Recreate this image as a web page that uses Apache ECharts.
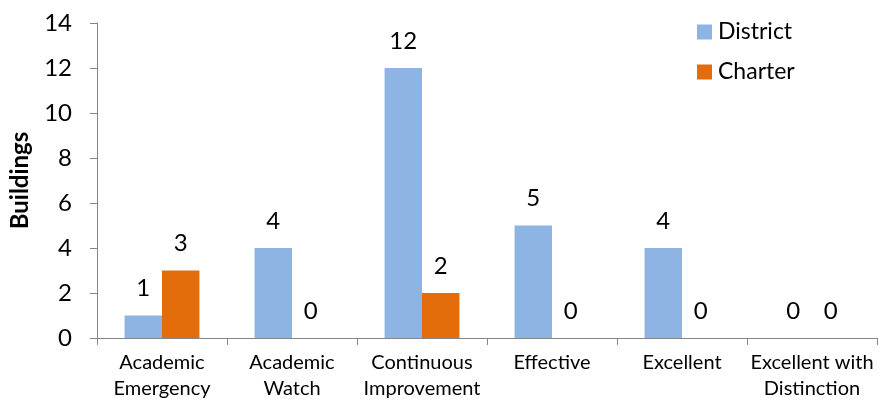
<!DOCTYPE html>
<html>
<head>
<meta charset="utf-8">
<script src="https://cdn.jsdelivr.net/npm/echarts@6/dist/echarts.min.js"></script>
<style>
  html, body { margin: 0; padding: 0; background: #fff; }
  #chart { width: 878px; height: 405px; }
</style>
</head>
<body>
<div id="chart"></div>
<script>
// Building ratings by category, district vs. charter
const categories = [
  'Academic\nEmergency',
  'Academic\nWatch',
  'Continuous\nImprovement',
  'Effective',
  'Excellent',
  'Excellent with\nDistinction'
];
const districtValues = [1, 4, 12, 5, 4, 0];
const charterValues = [3, 0, 2, 0, 0, 0];
const yTicks = { min: 0, max: 14, interval: 2 };

const FONT = 'Lato';
const axisGray = '#868686';

const chart = echarts.init(document.getElementById('chart'), null, { renderer: 'canvas' });

const labelStyle = {
  show: true,
  position: 'top',
  distance: 15,
  fontFamily: FONT,
  fontSize: 24,
  color: '#000'
};

chart.setOption({
  animation: false,
  backgroundColor: '#fff',
  grid: { left: 96, right: 1, top: 23, bottom: 67, containLabel: false },
  legend: {
    orient: 'vertical',
    left: 697,
    top: 20,
    padding: 0,
    itemWidth: 15,
    itemHeight: 15,
    itemGap: 16,
    icon: 'rect',
    textStyle: { fontFamily: FONT, fontSize: 23, color: '#000', lineHeight: 24, padding: [0, 0, 0, 1] },
    data: ['District', 'Charter']
  },
  xAxis: {
    type: 'category',
    data: categories,
    axisLine: { lineStyle: { color: axisGray, width: 1 } },
    axisTick: { show: true, alignWithLabel: false, length: 7, lineStyle: { color: axisGray } },
    axisLabel: {
      interval: 0,
      margin: 12,
      fontFamily: FONT,
      fontSize: 20,
      lineHeight: 26,
      color: '#000'
    }
  },
  yAxis: {
    type: 'value',
    min: yTicks.min,
    max: yTicks.max,
    interval: yTicks.interval,
    name: 'Buildings',
    nameLocation: 'middle',
    nameGap: 65,
    nameTextStyle: { fontFamily: FONT, fontSize: 24, fontWeight: 'bold', color: '#000' },
    axisLine: { show: true, lineStyle: { color: axisGray, width: 1 } },
    axisTick: { show: true, length: 7, lineStyle: { color: axisGray } },
    splitLine: { show: false },
    axisLabel: { margin: 25, fontFamily: FONT, fontSize: 24, color: '#000' }
  },
  series: [
    {
      name: 'District',
      type: 'bar',
      data: districtValues,
      barWidth: '28.8%',
      barGap: '0%',
      itemStyle: { color: '#8EB4E3' },
      label: labelStyle
    },
    {
      name: 'Charter',
      type: 'bar',
      data: charterValues,
      barWidth: '28.8%',
      barGap: '0%',
      itemStyle: { color: '#E46C0A' },
      label: labelStyle
    }
  ]
});
</script>
</body>
</html>
